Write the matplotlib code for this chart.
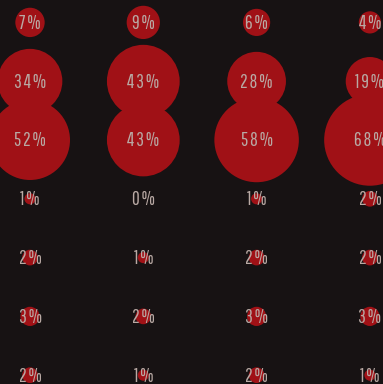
import matplotlib
matplotlib.use("Agg")
import matplotlib.pyplot as plt
import numpy as np

# share of answers per group (columns) and per answer (rows), in percent
groups = ["A", "B", "C", "D"]
answers = ["a1", "a2", "a3", "a4", "a5", "a6", "a7"]
group_a = [7, 34, 52, 1, 2, 3, 2]
group_b = [9, 43, 43, 0, 1, 2, 1]
group_c = [6, 28, 58, 1, 2, 3, 2]
group_d = [4, 19, 68, 2, 2, 3, 1]

BG = "#171213"
DOT = "#a01116"
LABEL = "#b9a9a4"
FONT = ["Pathway Gothic One", "DejaVu Sans"]

values = np.array([group_a, group_b, group_c, group_d])


def spaced(s):
    # loose tracking between the digits
    return "\u200a".join(s)


fig = plt.figure(figsize=(3.83, 3.84), dpi=100, facecolor=BG)
ax = fig.add_axes([0, 0, 1, 1])
ax.set_facecolor(BG)

for gi, col in enumerate(values):
    xs = np.full(len(col), gi)
    ys = np.arange(len(col))
    # marker area grows with the percentage
    ax.scatter(xs, ys, s=col * 63.8, color=DOT, linewidths=0, zorder=2)
    for yi, v in zip(ys, col):
        ax.text(gi, yi + 0.015, spaced(f"{v}%"), ha="center", va="center",
                color=LABEL, fontsize=13.8, family=FONT, zorder=3)

ax.set_xlim(-0.2648, 3.1156)
ax.set_ylim(6.15, -0.381)
ax.axis("off")

fig.savefig("out.png", dpi=100, facecolor=BG)
